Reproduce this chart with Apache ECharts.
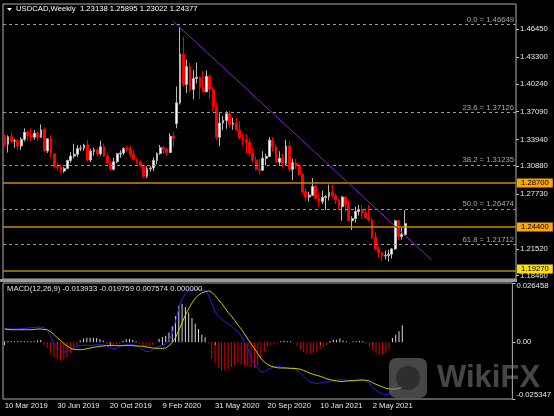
<!DOCTYPE html>
<html><head><meta charset="utf-8">
<script src="https://cdn.jsdelivr.net/npm/echarts@6/dist/echarts.min.js"></script>
<style>html,body{margin:0;padding:0;background:#000;}#c{width:554px;height:416px;}</style>
</head><body><div id="c"></div>
<script>
// ---- weekly OHLC, one entry per week starting 10 Mar 2019 ----
const open = [1.3420,1.3340,1.3425,1.3375,1.3380,1.3320,1.3395,1.3475,1.3440,1.3420,
1.3465,1.3420,1.3505,1.3265,1.3400,1.3230,1.3090,1.3080,1.3035,1.3065,
1.3155,1.3205,1.3225,1.3290,1.3295,1.3330,1.3160,1.3260,1.3275,1.3230,
1.3310,1.3205,1.3125,1.3055,1.3140,1.3230,1.3240,1.3290,1.3280,1.3225,
1.3165,1.3140,1.3100,1.2975,1.3060,1.3070,1.3155,1.3235,1.3300,1.3280,
1.3245,1.3430,1.3575,1.3810,1.4365,1.4020,1.4220,1.3960,1.4085,1.4100,
1.3985,1.3935,1.4110,1.3960,1.3770,1.3420,1.3580,1.3610,1.3685,1.3565,
1.3580,1.3500,1.3410,1.3390,1.3360,1.3240,1.3160,1.3055,1.3045,1.3180,
1.3200,1.3385,1.3310,1.3135,1.3180,1.3120,1.3320,1.3055,1.3130,1.3090,
1.2995,1.2800,1.2740,1.2760,1.2860,1.2725,1.2690,1.2735,1.2745,1.2790,
1.2755,1.2705,1.2630,1.2740,1.2655,1.2470,1.2495,1.2575,1.2600,1.2560,
1.2505,1.2480,1.2285,1.2150,1.2110,1.2070,1.2075,1.2090,1.2150,1.2470,
1.2290,1.23138];
const high = [1.3450,1.3440,1.3470,1.3400,1.3400,1.3420,1.3520,1.3490,1.3520,1.3500,
1.3490,1.3565,1.3530,1.3410,1.3440,1.3240,1.3130,1.3110,1.3080,1.3165,
1.3250,1.3345,1.3330,1.3330,1.3345,1.3385,1.3285,1.3300,1.3290,1.3380,
1.3345,1.3235,1.3150,1.3185,1.3240,1.3270,1.3305,1.3325,1.3320,1.3270,
1.3180,1.3155,1.3120,1.3090,1.3090,1.3190,1.3245,1.3330,1.3320,1.3300,
1.3465,1.3480,1.3995,1.46649,1.4560,1.4300,1.4265,1.4180,1.4265,1.4110,
1.4170,1.4175,1.4130,1.3990,1.3810,1.3690,1.3660,1.3715,1.3715,1.3640,
1.3640,1.3600,1.3455,1.3450,1.3400,1.3300,1.3200,1.3170,1.3260,1.3230,
1.3420,1.3420,1.3340,1.3260,1.3230,1.3390,1.3370,1.3170,1.3170,1.3120,
1.3010,1.2840,1.2800,1.2955,1.2880,1.2780,1.2810,1.2760,1.2880,1.2880,
1.2780,1.2720,1.2750,1.2750,1.2700,1.2520,1.2630,1.2650,1.2650,1.2600,
1.2650,1.2500,1.2340,1.2180,1.2120,1.2130,1.2140,1.2160,1.2480,1.2485,
1.2400,1.25895];
const low = [1.3310,1.3245,1.3355,1.3300,1.3270,1.3275,1.3370,1.3380,1.3375,1.3390,
1.3375,1.3410,1.3250,1.3240,1.3195,1.3070,1.3040,1.3015,1.3015,1.3055,
1.3130,1.3180,1.3195,1.3260,1.3265,1.3140,1.3135,1.3210,1.3200,1.3210,
1.3195,1.3115,1.3040,1.3040,1.3125,1.3185,1.3215,1.3255,1.3190,1.3155,
1.3110,1.3080,1.2950,1.2955,1.3030,1.3035,1.3110,1.3220,1.3230,1.3215,
1.3240,1.3315,1.3520,1.3790,1.3990,1.3920,1.3930,1.3850,1.4030,1.3855,
1.3930,1.3930,1.3850,1.3715,1.3390,1.3315,1.3500,1.3515,1.3525,1.3505,
1.3485,1.3390,1.3330,1.3230,1.3200,1.3130,1.3040,1.2995,1.3035,1.3100,
1.3195,1.3255,1.3130,1.3100,1.3080,1.3100,1.3030,1.2930,1.3060,1.2990,
1.2770,1.2690,1.2690,1.2750,1.2710,1.2630,1.2660,1.2590,1.2700,1.2740,
1.2660,1.2590,1.2470,1.2570,1.2460,1.2365,1.2450,1.2530,1.2490,1.2490,
1.2460,1.2265,1.2135,1.2045,1.2010,1.2030,1.2007,1.2040,1.2140,1.2250,
1.2255,1.23022];
const close = [1.3340,1.3425,1.3375,1.3380,1.3320,1.3395,1.3475,1.3440,1.3420,1.3465,
1.3420,1.3505,1.3265,1.3400,1.3230,1.3090,1.3080,1.3035,1.3065,1.3155,
1.3205,1.3225,1.3290,1.3295,1.3330,1.3160,1.3260,1.3275,1.3230,1.3310,
1.3205,1.3125,1.3055,1.3140,1.3230,1.3240,1.3290,1.3280,1.3225,1.3165,
1.3140,1.3100,1.2975,1.3060,1.3070,1.3155,1.3235,1.3300,1.3280,1.3245,
1.3430,1.3410,1.3810,1.4365,1.4020,1.4220,1.3960,1.4085,1.4100,1.3985,
1.3935,1.4110,1.3960,1.3770,1.3420,1.3580,1.3610,1.3685,1.3565,1.3580,
1.3500,1.3410,1.3390,1.3360,1.3240,1.3160,1.3055,1.3045,1.3180,1.3200,
1.3385,1.3310,1.3135,1.3180,1.3120,1.3320,1.3055,1.3130,1.3090,1.2995,
1.2800,1.2740,1.2760,1.2860,1.2725,1.2690,1.2735,1.2745,1.2790,1.2755,
1.2705,1.2630,1.2740,1.2655,1.2470,1.2495,1.2575,1.2600,1.2560,1.2505,
1.2480,1.2285,1.2150,1.2110,1.2070,1.2075,1.2090,1.2150,1.2470,1.2290,
1.2314,1.24377];

// ---- MACD(12,26,9), in units of 0.0001 ----
const macd_e4 = [62,60,59,59,60,60,62,63,65,66,
68,68,65,52,25,-8,-27,-39,-45,-42,
-33,-26,-18,-15,-13,-13,-14,-13,-11,-11,
-11,-14,-23,-30,-26,-18,-14,-11,-11,-11,
-14,-21,-33,-41,-41,-33,-24,-18,-14,-8,
8,38,95,150,194,217,229,232,235,235,
235,232,212,175,138,116,104,93,83,72,
57,46,28,-1,-30,-66,-97,-118,-133,-132,
-121,-115,-109,-106,-109,-114,-117,-115,-115,-124,
-138,-152,-167,-178,-182,-184,-182,-181,-178,-176,
-173,-169,-167,-167,-170,-172,-173,-170,-166,-167,
-172,-184,-202,-215,-224,-231,-236,-231,-212,-187,
-170,-139.33];
const signal_e4 = [59,57,56,56,56,56,56,56,56,57,
59,59,57,56,47,35,20,8,-5,-17,
-26,-32,-33,-33,-32,-29,-26,-23,-20,-18,
-17,-15,-15,-15,-15,-15,-15,-15,-15,-15,
-17,-17,-18,-21,-23,-26,-27,-27,-27,-26,
-15,-1,20,54,87,121,150,175,196,211,
220,226,229,224,209,191,174,154,133,117,
98,77,59,37,14,-7,-27,-51,-72,-88,
-99,-106,-111,-114,-115,-115,-115,-117,-117,-118,
-121,-126,-132,-139,-144,-148,-152,-157,-163,-167,
-170,-173,-175,-175,-173,-172,-172,-170,-170,-169,
-170,-173,-181,-188,-194,-200,-205,-208,-209,-209,
-206,-197.59];
const hist_e4 = [2,2,2,2,1,2,2,2,2,4,
8,10,-11,-26,-48,-66,-75,-81,-78,-66,
-48,-30,-13,8,17,20,20,20,19,14,
8,-7,-13,-13,-10,-7,7,13,14,10,
2,-7,-14,-18,-17,-11,-4,16,23,29,
44,71,116,163,172,157,133,108,83,59,
34,22,-1,-71,-93,-115,-126,-126,-120,-111,
-102,-94,-99,-105,-108,-111,-115,-102,-75,-45,
-18,-13,-10,-2,2,7,4,2,-2,-18,
-33,-45,-51,-53,-48,-41,-33,-21,-13,5,
11,11,17,8,1,-4,2,4,5,2,
-7,-21,-36,-48,-54,-54,-48,-33,19,34,
49,75.74];

// ---- axes / annotations ----
const tickLabels = ['10 Mar 2019','30 Jun 2019','20 Oct 2019','9 Feb 2020','31 May 2020','20 Sep 2020','10 Jan 2021','2 May 2021'];
const TICK_STEP = 16;          // weeks between date labels
const EMPTY_WEEKS = 33;        // chart shift (empty space on the right)
const priceTicks = [1.46450,1.43300,1.40240,1.37090,1.33940,1.30880,1.27730,1.21520,1.18460];
const priceMin = 1.18085, priceMax = 1.49324;
const macdTicks = [0.026458, 0, -0.025347];
const fibNames = ['0.0','23.6','38.2','50.0','61.8'];
const fibValues = [1.46649,1.37126,1.31235,1.26474,1.21712];
const resistanceLevels = [1.28700, 1.24400];
const supportLevels = [1.19270];
const trendline = [[51, 1.4734], [129, 1.2025]];
const headerText = 'USDCAD,Weekly  1.23138 1.25895 1.23022 1.24377';
const macdText = 'MACD(12,26,9) -0.013933 -0.019759 0.007574 0.000000';

const FONT = 'Liberation Sans';
const FS = 7.7;
const N = open.length + EMPTY_WEEKS;
const cats = Array.from({length: N}, (_, i) => String(i));
const candles = open.map((o, i) => [o, close[i], low[i], high[i]]);
const showTick = idx => idx % TICK_STEP === 0 && idx / TICK_STEP < tickLabels.length;

const markData = [];
fibNames.forEach((name, k) => markData.push({
  yAxis: fibValues[k],
  lineStyle: {color: '#9a9a9a', type: [3, 3], width: 1},
  label: {show: true, position: 'insideEndTop', formatter: name + ' = ' + fibValues[k].toFixed(5),
    color: '#a8a8a8', fontSize: FS, fontFamily: FONT, distance: [2, 1]}
}));
resistanceLevels.forEach(v => markData.push({
  yAxis: v,
  lineStyle: {color: '#d08800', type: 'solid', width: 1.5},
  label: {show: true, position: 'end', formatter: v.toFixed(5), backgroundColor: '#ffa500',
    color: '#000', padding: [0, 4, 0, 4], lineHeight: 9, fontSize: FS, fontFamily: FONT, distance: 1}
}));
supportLevels.forEach(v => markData.push({
  yAxis: v,
  lineStyle: {color: '#a89000', type: 'solid', width: 1.5},
  label: {show: true, position: 'end', formatter: v.toFixed(5), backgroundColor: '#ffe000',
    color: '#000', padding: [0, 4, 0, 4], lineHeight: 9, fontSize: FS, fontFamily: FONT, distance: 1,
    offset: [0, -2]}
}));
markData.push([
  {coord: trendline[0], lineStyle: {color: '#8a22c8', width: 1, type: 'solid'}, label: {show: false}},
  {coord: trendline[1]}
]);

const chart = echarts.init(document.getElementById('c'), null, {renderer: 'canvas'});
chart.setOption({
  backgroundColor: '#000',
  animation: false,
  title: [
    {text: headerText, left: 16, top: 5, padding: 0,
     textStyle: {color: '#ffffff', fontSize: FS, fontWeight: 'normal', fontFamily: FONT}},
    {text: macdText, left: 7, top: 285, padding: 0,
     textStyle: {color: '#e0e0e0', fontSize: FS, fontWeight: 'normal', fontFamily: FONT}}
  ],
  grid: [
    {left: 3, top: 4, width: 513, height: 275, show: true, borderColor: '#b0b0b0', borderWidth: 1},
    {left: 3, top: 283, width: 513, height: 116, show: true, borderColor: '#b0b0b0', borderWidth: 1}
  ],
  xAxis: [
    {type: 'category', gridIndex: 0, data: cats, axisLine: {show: false}, axisTick: {show: false}, axisLabel: {show: false}},
    {type: 'category', gridIndex: 1, data: cats, axisLine: {show: false},
     axisTick: {show: true, interval: showTick, alignWithLabel: true, length: 3, lineStyle: {color: '#c0c0c0'}},
     axisLabel: {interval: showTick, formatter: (v, idx) => tickLabels[Math.round(idx / TICK_STEP)] || '',
       align: 'left', color: '#e8e8e8', fontSize: FS, fontFamily: FONT, margin: 3}}
  ],
  yAxis: [
    {type: 'value', gridIndex: 0, position: 'right', min: priceMin, max: priceMax,
     splitLine: {show: false}, axisLine: {show: false},
     axisTick: {show: true, customValues: priceTicks, length: 3, lineStyle: {color: '#c0c0c0'}},
     axisLabel: {customValues: priceTicks, formatter: v => v.toFixed(5), color: '#e8e8e8',
       fontSize: FS, fontFamily: FONT, margin: 4}},
    {type: 'value', gridIndex: 1, position: 'right', min: macdTicks[2], max: macdTicks[0],
     splitLine: {show: false}, axisLine: {show: false},
     axisTick: {show: true, customValues: macdTicks, length: 3, lineStyle: {color: '#c0c0c0'}},
     axisLabel: {customValues: macdTicks, color: '#e8e8e8', fontSize: FS, fontFamily: FONT, margin: 4,
       formatter: v => v > 0 ? '{t|' + v.toFixed(6) + '}' : (v < 0 ? '{b|' + v.toFixed(6) + '}' : '0.00'),
       rich: {t: {padding: [6, 0, 0, 0], color: '#e8e8e8', fontSize: FS, fontFamily: FONT},
              b: {padding: [0, 0, 8, 0], color: '#e8e8e8', fontSize: FS, fontFamily: FONT}}}}
  ],
  series: [
    {type: 'candlestick', xAxisIndex: 0, yAxisIndex: 0, data: candles, barWidth: 2.3,
     itemStyle: {color: '#ffffff', color0: '#ff0000', borderColor: '#b8b8b8', borderColor0: '#ff0000', borderWidth: 1},
     markLine: {symbol: ['none', 'none'], silent: true, animation: false, data: markData}},
    {type: 'bar', xAxisIndex: 1, yAxisIndex: 1, data: hist_e4.map(v => v / 1e4), barWidth: 1, barMinHeight: 1,
     itemStyle: {color: p => p.value >= 0 ? '#d8d8d8' : '#e00000'}},
    {type: 'line', xAxisIndex: 1, yAxisIndex: 1, data: macd_e4.map(v => v / 1e4), showSymbol: false,
     lineStyle: {color: '#2222ee', width: 1}},
    {type: 'line', xAxisIndex: 1, yAxisIndex: 1, data: signal_e4.map(v => v / 1e4), showSymbol: false,
     lineStyle: {color: '#cccc00', width: 1}}
  ],
  graphic: [
    {type: 'polygon', shape: {points: [[7, 8], [12, 8], [9.5, 11]]}, style: {fill: '#ffffff'}},
    {type: 'rect', shape: {x: 0, y: 279, width: 517, height: 3}, style: {fill: '#9a9a9a'}},
    {type: 'rect', shape: {x: 389, y: 358, width: 38, height: 40, r: 7}, style: {fill: 'rgba(128,128,128,0.55)'}, z: 100},
    {type: 'circle', shape: {cx: 408, cy: 378, r: 12}, style: {fill: 'rgba(30,30,30,0.6)'}, z: 101},
    {type: 'text', x: 437, y: 378, z: 100,
     style: {text: 'WikiFX', fill: 'rgba(128,128,128,0.55)', font: 'bold 31px "Liberation Sans"', textVerticalAlign: 'middle'}}
  ]
});
</script>
</body></html>
